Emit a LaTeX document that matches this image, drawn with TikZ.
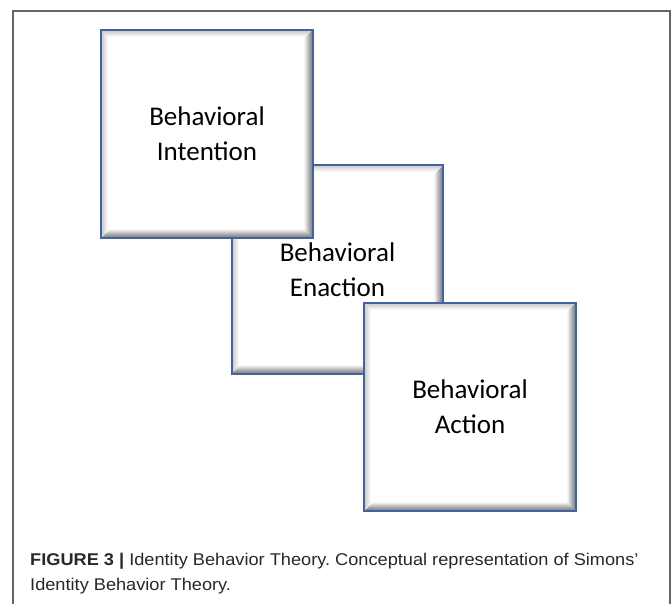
\documentclass[tikz,border=0pt]{standalone}
\usepackage{fontspec}
\setmainfont{Liberation Sans}
\newfontfamily\boxfont{Carlito}
\newfontfamily\capfont[FakeStretch=1.07]{Liberation Sans}
\usetikzlibrary{calc}

\definecolor{edgeblue}{RGB}{66,98,160}
\definecolor{framegray}{RGB}{100,100,100}
\definecolor{captiontext}{RGB}{40,40,40}

\tikzset{
  stagebox/.style={minimum width=211pt, minimum height=208pt, inner sep=0pt,
    fill=white, align=center, text=black,
    font=\boxfont\fontsize{27}{35}\selectfont},
  stageedge/.style={draw=edgeblue, line width=2pt},
  framerule/.style={draw=framegray, line width=1.4pt},
  captionstyle/.style={anchor=base west, align=left, inner sep=0pt,
    text=captiontext, font=\capfont\frenchspacing\fontsize{17}{25}\selectfont},
}

% A square stage with a soft inner shadow, heavier along the bottom and right
\newcommand\drawstage[3]{%
  \node[stagebox] (#1) at (#2) {#3};
  \foreach \i in {1,...,7}{
    \pgfmathsetmacro\sh{\i-0.5}
    \pgfmathsetmacro\op{0.22*(8-\i)/7}
    \draw[black, opacity=\op, line width=1pt]
      ($(#1.south west)+(\sh pt,\sh pt)$) rectangle ($(#1.north east)+(-\sh pt,-\sh pt)$);
  }
  \foreach \i in {1,...,9}{
    \pgfmathsetmacro\sh{\i-0.5}
    \pgfmathsetmacro\op{0.35*(10-\i)/9}
    \draw[black, opacity=\op, line width=1pt]
      ($(#1.south west)+(\sh pt,\sh pt)$) -- ($(#1.south east)+(-\sh pt,\sh pt)$)
      -- ($(#1.north east)+(-\sh pt,-\sh pt)$);
  }
  \draw[stageedge] (#1.south west) rectangle (#1.north east);
}

\begin{document}
\begin{tikzpicture}
  \useasboundingbox[fill=white] (0pt,0pt) rectangle (672pt,-604pt);

  % outer frame, open at the bottom
  \draw[framerule] (13pt,-604pt) -- (13pt,-11pt) -- (670pt,-11pt) -- (670pt,-604pt);

  % middle stage first, so the other two overlap it
  \drawstage{enaction}{337.5pt,-269.5pt}{Behavioral\\Enaction}
  \drawstage{intention}{207pt,-134pt}{Behavioral\\Intention}
  \drawstage{action}{470pt,-407pt}{Behavioral\\Action}

  % the node's base is the baseline of its last line
  \node[captionstyle] (caption) at (30pt,-590pt)
    {\textbf{FIGURE 3 |} Identity Behavior Theory. Conceptual representation of Simons’\\Identity Behavior Theory.};
\end{tikzpicture}
\end{document}
